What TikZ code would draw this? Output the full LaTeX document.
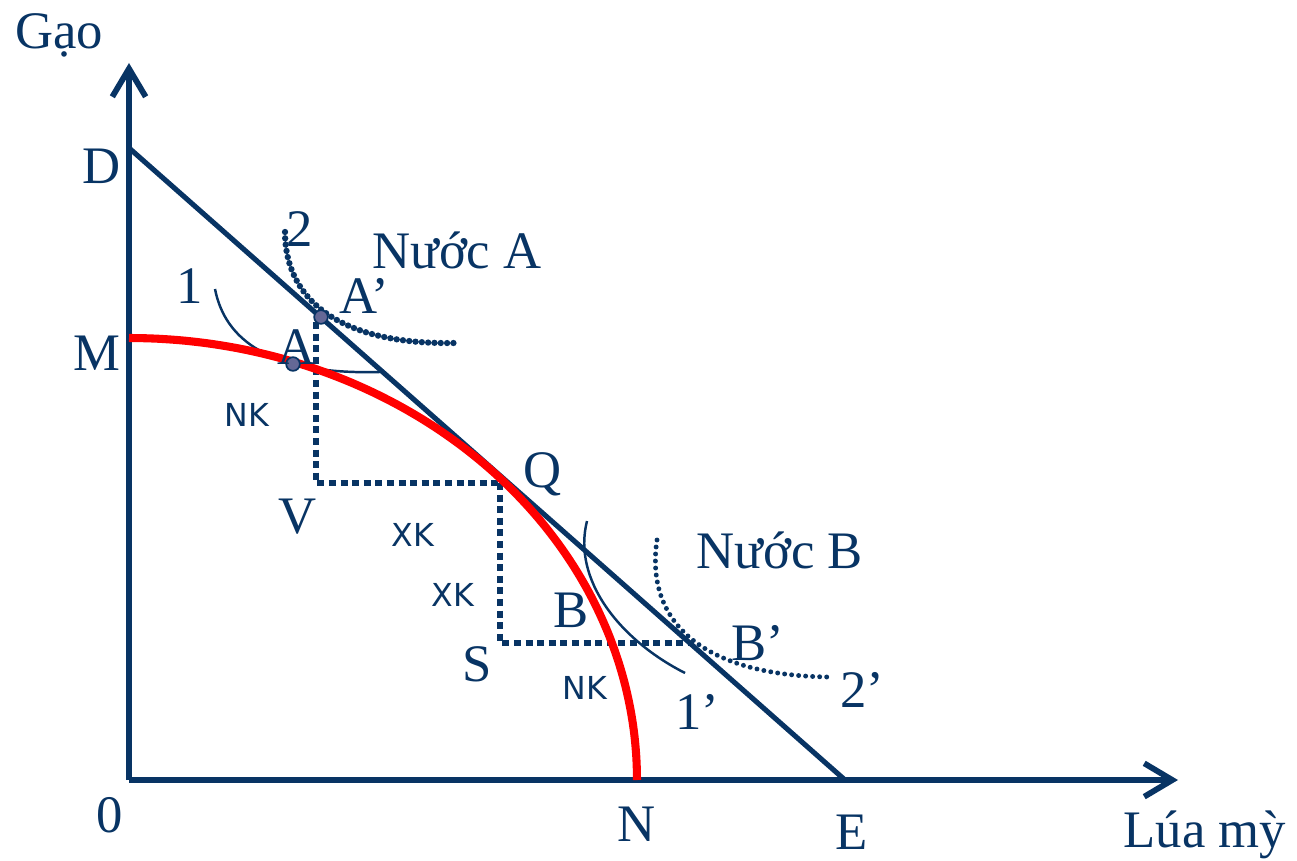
\documentclass[tikz,border=0pt]{standalone}
\usepackage{fontspec}
\setmainfont{Liberation Serif}
\newfontfamily\sansf{DejaVu Sans}
\usetikzlibrary{arrows.meta}
\definecolor{navy}{RGB}{8,52,100}
\definecolor{ptfill}{RGB}{100,104,150}
\tikzset{
  axisline/.style={navy, line width=3.3pt, -{Straight Barb[length=16pt,width=19pt,line width=3.3pt]}},
  budget/.style={navy, line width=2.9pt},
  ppf/.style={red, line width=4.6pt},
  guide/.style={navy, line width=2.9pt, dash pattern=on 4pt off 2.6pt},
  indthin/.style={navy, line width=1.4pt},
  inddots/.style={navy, line width=3.6pt, line cap=round, dash pattern=on 0pt off 3.6pt},
  inddots2/.style={navy, line width=2.8pt, line cap=round, dash pattern=on 0pt off 4pt},
  lbl/.style={text=navy, font=\fontsize{30}{32}\selectfont, inner sep=0pt},
  slbl/.style={text=navy, font=\sansf\fontsize{18}{20}\selectfont, inner sep=0pt},
  pt/.style={draw=navy, fill=ptfill, line width=1pt}
}
\begin{document}
\begin{tikzpicture}[x=0.02cm,y=-0.02cm]
\useasboundingbox (0,0) rectangle (1297,861);
% coordinates
\coordinate (O) at (129,780);
\coordinate (Ytip) at (129,63);
\coordinate (Xtip) at (1178,780);
\coordinate (D) at (129,148);
\coordinate (E) at (845,780);
\coordinate (A) at (293,364);
\coordinate (Ap) at (321,317);
\coordinate (Q) at (500,483);
\coordinate (V) at (316,483);
\coordinate (S) at (500,643);
\coordinate (Bp) at (690,643);
\coordinate (Vtop) at (316,322);
% axes
\draw[axisline] (O) -- (Ytip);
\draw[axisline] (O) -- (Xtip);
% budget line
\draw[budget] (D) -- (E);
% guides
\draw[guide] (Vtop) -- (V) -- (Q);
\draw[guide] (Q) -- (S) -- (Bp);
% indifference curves
\draw[indthin] (215,289) .. controls (225,340) and (270,375) .. (380,372);
\draw[inddots] (285,232) .. controls (285,300) and (340,345) .. (455,343);
\draw[indthin] (587,521) .. controls (572,580) and (620,640) .. (685,673);
\draw[inddots2] (657,540) .. controls (645,620) and (700,675) .. (828,677);
% PPF
\draw[ppf] plot[domain=90:0, samples=60, smooth] ({129+508*cos(\x)},{780-442*sin(\x)});
% points
\fill[pt] (A) circle[radius=3.9pt];
\fill[pt] (Ap) circle[radius=3.9pt];
% labels
\node[lbl] (lgao) at (59,35) {Gạo};
\node[lbl] (lD) at (102,166) {D};
\node[lbl] (lM) at (97,353) {M};
\node[lbl] (lO) at (110,815) {0};
\node[lbl] (lN) at (637,824) {N};
\node[lbl] (lE) at (852,832) {E};
\node[lbl] (lx) at (1205,835) {Lúa mỳ};
\node[lbl] (lV) at (298,517) {V};
\node[lbl] (lS) at (477,664) {S};
\node[lbl] (lQ) at (543,474) {Q};
\node[lbl] (lA) at (297,347) {A};
\node[lbl] (lAp) at (364,296) {A’};
\node[lbl] (l1) at (190,286) {1};
\node[lbl] (l2) at (300,229) {2};
\node[lbl] (lnA) at (457,250) {Nước A};
\node[lbl] (lnB) at (780,550) {Nước B};
\node[lbl] (lB) at (571,610) {B};
\node[lbl] (lBp) at (758,643) {B’};
\node[lbl] (l1p) at (697,712) {1’};
\node[lbl] (l2p) at (862,690) {2’};
\node[slbl] (nk1) at (247,415) {NK};
\node[slbl] (xk1) at (413,535) {XK};
\node[slbl] (xk2) at (453,595) {XK};
\node[slbl] (nk2) at (585,688) {NK};
\end{tikzpicture}
\end{document}
